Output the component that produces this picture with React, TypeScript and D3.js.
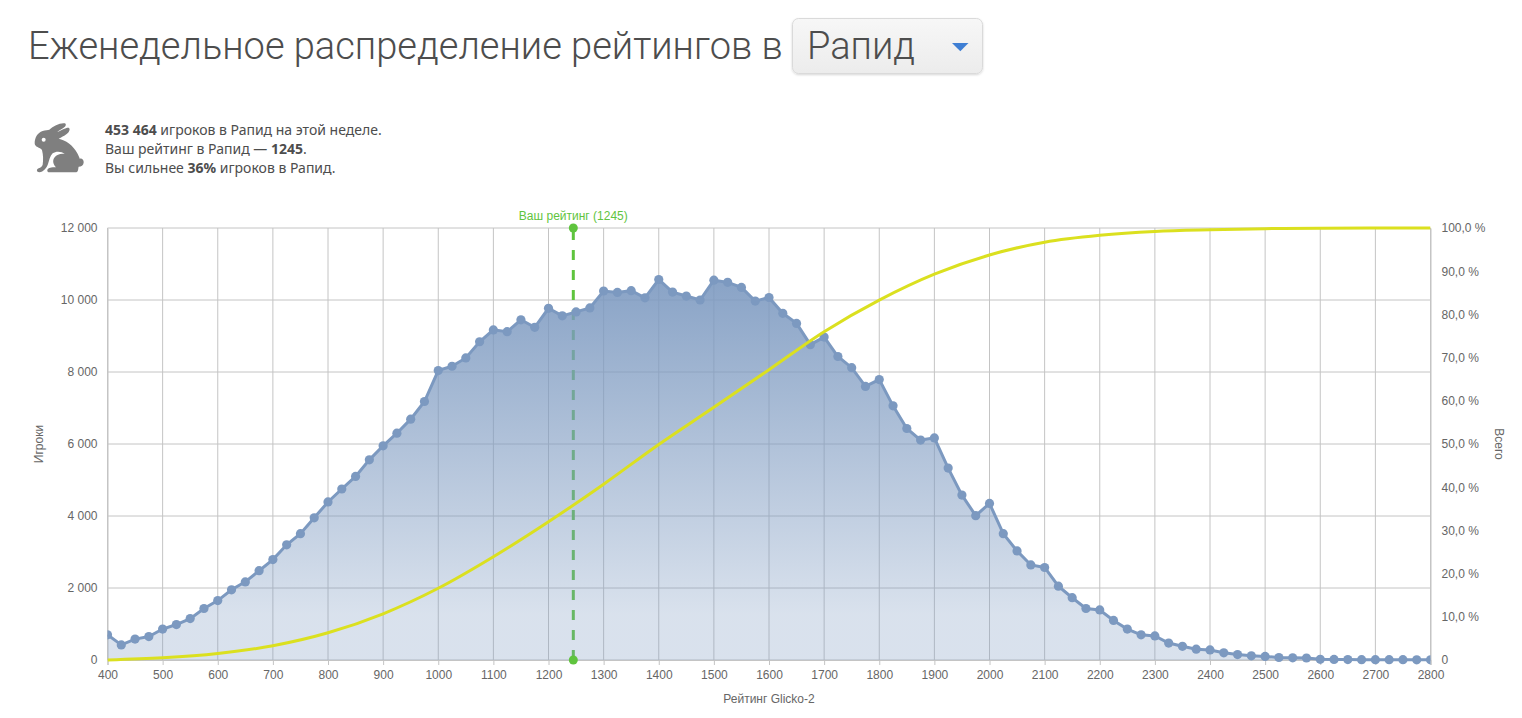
import { useEffect, useRef } from "react";
import * as d3 from "d3";

const WIDTH = 1522;
const HEIGHT = 718;
const MARGIN = { top: 228, right: 91.5, bottom: 58, left: 107.5 };

const ratings = d3.range(400, 2801, 25);
const players = [
  700, 420, 580, 650, 860, 985, 1150, 1430, 1650, 1950, 2170, 2480, 2790, 3200, 3510, 3950, 4390,
  4750, 5100, 5560, 5950, 6300, 6690, 7180, 8040, 8160, 8390, 8840, 9170, 9120, 9450, 9240, 9770,
  9560, 9670, 9780, 10250, 10210, 10260, 10060, 10570, 10220, 10110, 10000, 10550, 10490, 10350,
  9970, 10070, 9630, 9350, 8760, 8970, 8430, 8120, 7600, 7790, 7060, 6430, 6110, 6170, 5330, 4580,
  4010, 4350, 3510, 3030, 2640, 2570, 2050, 1730, 1430, 1390, 1100, 860, 700, 670, 470, 380, 300,
  280, 200, 150, 115, 100, 70, 60, 55, 20, 15, 12, 10, 10, 8, 8, 6, 5,
];

const cumulativeRatings = [
  400, 500, 600, 700, 800, 900, 1000, 1100, 1200, 1300, 1400, 1500, 1600, 1700, 1800, 1900, 2000,
  2100, 2200, 2300, 2400, 2500, 2600, 2800,
];
const cumulativePct = [
  0, 0.5, 1.5, 3.3, 6.3, 10.7, 16.6, 23.9, 32, 40.7, 49.9, 58.5, 67.2, 76, 83.3, 89.3, 93.75, 96.7,
  98.3, 99.2, 99.6, 99.85, 99.95, 100,
];

const xTicks = d3.range(400, 2801, 100);
const leftTicks = [0, 2000, 4000, 6000, 8000, 10000, 12000];
const rightTicks = d3.range(0, 101, 10);
const myRating = 1245;

const statLines = [
  [["453 464", true], [" игроков в Рапид на этой неделе.", false]],
  [["Ваш рейтинг в Рапид — ", false], ["1245", true], [".", false]],
  [["Вы сильнее ", false], ["36%", true], [" игроков в Рапид.", false]],
] as [string, boolean][][];

const CHART_FONT = "'Liberation Sans', Arial, sans-serif";
const LABEL = "#666666";
const GRID = "#c4c4c4";
const BLUE = "#7c99c0";
const YELLOW = "#dbe01f";
const GREEN = "#5fc43e";

const fmtPlayers = (v: number) => d3.format(",")(v).replace(",", " ");
const fmtPct = (v: number) => (v === 0 ? "0" : `${v.toFixed(1).replace(".", ",")} %`);

export default function App() {
  const axesRef = useRef<SVGGElement>(null);
  const boundsWidth = WIDTH - MARGIN.left - MARGIN.right;
  const boundsHeight = HEIGHT - MARGIN.top - MARGIN.bottom;

  const xScale = d3.scaleLinear().domain([400, 2800]).range([0, boundsWidth]);
  const yScale = d3.scaleLinear().domain([0, 12000]).range([boundsHeight, 0]);
  const pctScale = d3.scaleLinear().domain([0, 100]).range([boundsHeight, 0]);

  // axes are rendered by d3, not react
  useEffect(() => {
    const g = d3.select(axesRef.current);
    g.selectAll("*").remove();

    const bottom = g
      .append("g")
      .attr("transform", `translate(0,${boundsHeight})`)
      .call(d3.axisBottom(xScale).tickValues(xTicks).tickFormat(d3.format("d") as any).tickSize(5));
    const left = g
      .append("g")
      .call(d3.axisLeft(yScale).tickValues(leftTicks).tickFormat(fmtPlayers as any).tickSize(0).tickPadding(10));
    const right = g
      .append("g")
      .attr("transform", `translate(${boundsWidth},0)`)
      .call(d3.axisRight(pctScale).tickValues(rightTicks).tickFormat(fmtPct as any).tickSize(0).tickPadding(11));

    [bottom, left, right].forEach((a) => {
      a.attr("font-family", CHART_FONT).attr("font-size", 12);
      a.selectAll("text").attr("fill", LABEL);
      a.select(".domain").attr("stroke", GRID);
      a.selectAll("line").attr("stroke", GRID);
    });
    bottom.selectAll("text").attr("dy", "0.95em");
  }, [boundsWidth, boundsHeight]);

  const area = d3
    .area<number>()
    .x((_, i) => xScale(ratings[i]))
    .y0(boundsHeight)
    .y1((d) => yScale(d));
  const line = d3
    .line<number>()
    .x((_, i) => xScale(ratings[i]))
    .y((d) => yScale(d));
  const cumulative = d3
    .line<number>()
    .x((_, i) => xScale(cumulativeRatings[i]))
    .y((d) => pctScale(d))
    .curve(d3.curveCatmullRom);

  return (
    <svg
      width={WIDTH}
      height={HEIGHT}
      style={{ position: "absolute", left: 0, top: 0, background: "#fff" }}
    >
      <defs>
        <linearGradient id="players-fill" x1="0" y1="0" x2="0" y2="1">
          <stop offset="0" stopColor={BLUE} stopOpacity={0.9} />
          <stop offset="0.88" stopColor={BLUE} stopOpacity={0.29} />
          <stop offset="1" stopColor={BLUE} stopOpacity={0.29} />
        </linearGradient>
        <linearGradient id="select-fill" x1="0" y1="0" x2="0" y2="1">
          <stop offset="0" stopColor="#f7f7f7" />
          <stop offset="1" stopColor="#ececec" />
        </linearGradient>
        <filter id="select-shadow" x="-5%" y="-10%" width="110%" height="130%">
          <feDropShadow dx="0" dy="1" stdDeviation="1" floodColor="#000" floodOpacity={0.16} />
        </filter>
        <clipPath id="plot-clip">
          <rect x={0} y={-8} width={boundsWidth} height={boundsHeight + 16} />
        </clipPath>
      </defs>

      {/* heading */}
      <text x={28} y={59} fontFamily="Roboto, sans-serif" fontWeight={300} fontSize={38} fill="#4d4d4d">
        Еженедельное распределение рейтингов в
      </text>
      <rect x={792.5} y={18.5} width={190} height={55} rx={6} fill="url(#select-fill)" stroke="#dadada" filter="url(#select-shadow)" />
      <text x={807} y={59} fontFamily="Roboto, sans-serif" fontWeight={300} fontSize={38} fill="#4d4d4d">
        Рапид
      </text>
      <path d="M952 43h16.5l-8.2 8.3z" fill="#3f7fd4" />

      {/* rabbit icon, traced at 3x */}
      <g transform="translate(20,110) scale(0.3333)">
        <path
          fill="#7f7f7f"
          d="M44 100C44 84 52 68 68 63C76 60 84 60 88 59C100 48 120 38 134 40C140 42 138 50 130 54C124 58 116 62 112 66C124 60 138 52 146 53C152 56 148 66 140 72C132 78 124 82 116 86C136 90 160 106 172 130C176 138 178 142 179 146C186 144 192 150 191 158C190 166 184 170 176 170C174 176 176 187 166 187L88 187C80 187 80 177 88 174C96 172 102 172 108 172C100 164 96 152 104 142C110 134 122 130 134 132C126 124 108 122 98 130C90 138 88 150 84 162C80 174 70 186 58 187C50 187 48 178 56 175C62 172 66 170 68 164C70 150 70 136 66 120C60 112 44 112 44 100Z"
        />
        <circle cx={71} cy={89} r={6} fill="#fff" />
      </g>

      {/* stats */}
      {statLines.map((parts, i) => (
        <text key={i} x={105} y={134.5 + i * 19} fontFamily="'Noto Sans', sans-serif" fontSize={14} fill="#4d4d4d">
          {parts.map(([t, bold], j) => (
            <tspan key={j} fontWeight={bold ? 700 : 400}>
              {t}
            </tspan>
          ))}
        </text>
      ))}

      <g transform={`translate(${MARGIN.left},${MARGIN.top})`}>
        {/* grid */}
        {xTicks.map((t) => (
          <line key={t} x1={xScale(t)} x2={xScale(t)} y1={0} y2={boundsHeight} stroke={GRID} />
        ))}
        {leftTicks.map((t) => (
          <line key={t} x1={0} x2={boundsWidth} y1={yScale(t)} y2={yScale(t)} stroke={GRID} />
        ))}
        <g ref={axesRef} />

        {/* the rating line sits under the area, so it goes muted inside it */}
        <line
          x1={xScale(myRating)}
          x2={xScale(myRating)}
          y1={0}
          y2={boundsHeight}
          stroke={GREEN}
          strokeWidth={3}
          strokeDasharray="10 10"
          strokeDashoffset={-2}
        />
        <g clipPath="url(#plot-clip)">
          <path d={area(players) ?? ""} fill="url(#players-fill)" />
          <path d={line(players) ?? ""} fill="none" stroke={BLUE} strokeWidth={3} />
          {players.map((d, i) => (
            <circle key={i} cx={xScale(ratings[i])} cy={yScale(d)} r={4.6} fill={BLUE} />
          ))}
          <path d={cumulative(cumulativePct) ?? ""} fill="none" stroke={YELLOW} strokeWidth={3} />
        </g>
        <circle cx={xScale(myRating)} cy={0} r={4.5} fill={GREEN} />
        <circle cx={xScale(myRating)} cy={boundsHeight} r={4.5} fill={GREEN} />
        <text
          x={xScale(myRating)}
          y={-8}
          textAnchor="middle"
          fontFamily={CHART_FONT}
          fontSize={12}
          fill={GREEN}
        >
          Ваш рейтинг ({myRating})
        </text>
      </g>

      {/* axis titles */}
      <text x={769} y={703} textAnchor="middle" fontFamily={CHART_FONT} fontSize={12} fill={LABEL}>
        Рейтинг Glicko-2
      </text>
      <text
        transform="translate(43,444) rotate(-90)"
        textAnchor="middle"
        fontFamily={CHART_FONT}
        fontSize={12}
        fill={LABEL}
      >
        Игроки
      </text>
      <text
        transform="translate(1495,444) rotate(90)"
        textAnchor="middle"
        fontFamily={CHART_FONT}
        fontSize={12}
        fill={LABEL}
      >
        Всего
      </text>
    </svg>
  );
}
